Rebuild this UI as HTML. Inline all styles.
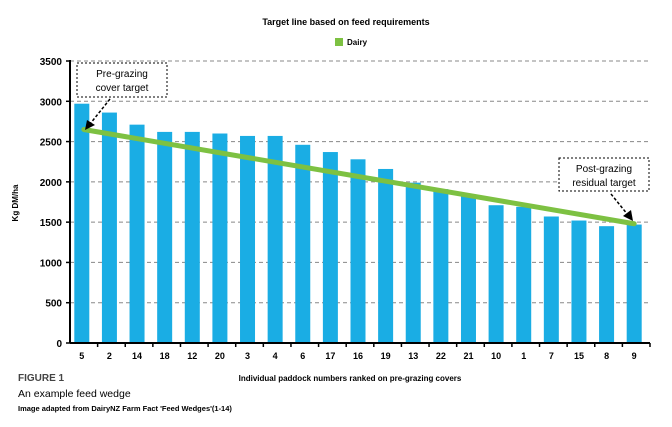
<!DOCTYPE html>
<html><head><meta charset="utf-8"><style>
body{margin:0;background:#fff;font-family:"Liberation Sans",sans-serif}
svg text{font-family:"Liberation Sans",sans-serif}
</style></head><body>
<svg id="c" width="672" height="422" xmlns="http://www.w3.org/2000/svg">
<text x="346" y="25" text-anchor="middle" font-size="9" font-weight="bold">Target line based on feed requirements</text>
<rect x="335" y="38" width="8" height="8" fill="#7dc142"/>
<text x="347" y="45" font-size="8" font-weight="bold">Dairy</text>
<g id="grid"></g><g id="bars"></g><g id="axes"></g>
<text x="18" y="203" font-size="8" font-weight="bold" transform="rotate(-90 18 203)" text-anchor="middle">Kg DM/ha</text>
<text x="350" y="381" text-anchor="middle" font-size="8" font-weight="bold">Individual paddock numbers ranked on pre-grazing covers</text>
<text x="18" y="381" font-size="10" font-weight="bold" fill="#444">FIGURE 1</text>
<text x="18" y="397" font-size="10.5">An example feed wedge</text>
<text x="18" y="411" font-size="7.5" font-weight="bold">Image adapted from DairyNZ Farm Fact 'Feed Wedges'(1-14)</text>
<g>
<rect x="77" y="63" width="90" height="34" fill="#fff" stroke="#000" stroke-dasharray="2,2"/>
<text x="122" y="77" text-anchor="middle" font-size="10">Pre-grazing</text>
<text x="122" y="91" text-anchor="middle" font-size="10">cover target</text>
<line x1="110" y1="99" x2="90" y2="124" stroke="#000" stroke-width="1.5" stroke-dasharray="3,2"/>
<polygon points="85,130 87,120 95,125" fill="#000"/>
</g>
<g>
<rect x="559" y="158" width="90" height="33" fill="#fff" stroke="#000" stroke-dasharray="2,2"/>
<text x="604" y="172" text-anchor="middle" font-size="10">Post-grazing</text>
<text x="604" y="186" text-anchor="middle" font-size="10">residual target</text>
<line x1="611" y1="194" x2="628" y2="215" stroke="#000" stroke-width="1.5" stroke-dasharray="3,2"/>
<polygon points="633,221 623,216 631,210" fill="#000"/>
</g>
</svg>
<script>
const paddocks=["5","2","14","18","12","20","3","4","6","17","16","19","13","22","21","10","1","7","15","8","9"];
const covers=[2970,2860,2710,2620,2620,2600,2570,2570,2460,2370,2280,2160,1990,1910,1820,1710,1690,1570,1520,1450,1470];
const yTicks=[0,500,1000,1500,2000,2500,3000,3500];
const targetStart=2650, targetEnd=1480;
const NS="http://www.w3.org/2000/svg";
const x0=70,x1=650,yb=343,yt=61;
const step=(x1-x0)/paddocks.length;
const xc=i=>x0+step*(i+0.5)-2;
const y=v=>yb-(v/3500)*(yb-yt);
function mk(t,a,p){const e=document.createElementNS(NS,t);for(const k in a)e.setAttribute(k,a[k]);p.appendChild(e);return e;}
const G=document.getElementById('grid'),B=document.getElementById('bars'),A=document.getElementById('axes');
yTicks.forEach(v=>{
 if(v>0){const l=mk('line',{x1:x0,x2:x1,y1:y(v),y2:y(v),stroke:'#888','stroke-dasharray':'4,3'},G);
 
 }
 const t=mk('text',{x:x0-8,y:y(v)+4,'text-anchor':'end','font-size':10,'font-weight':'bold'},A);t.textContent=v;
 
 
 mk('line',{x1:x0-4,x2:x0,y1:y(v),y2:y(v),stroke:'#000','stroke-width':1.5},A);
});
covers.forEach((v,i)=>{
 const r=mk('rect',{x:xc(i)-7.5,y:y(v),width:15,height:yb-y(v),fill:'#1aade4'},B);
 
 
 const t=mk('text',{x:xc(i),y:359,'text-anchor':'middle','font-size':9,'font-weight':'bold'},A);t.textContent=paddocks[i];
 
 
 mk('line',{x1:x0+step*(i+1),x2:x0+step*(i+1),y1:yb,y2:yb+4,stroke:'#000','stroke-width':1.5},A);
});
mk('line',{x1:x0,x2:x0,y1:yt-1,y2:yb,stroke:'#000','stroke-width':2},A);
mk('line',{x1:x0,x2:x1,y1:yb,y2:yb,stroke:'#000','stroke-width':2},A);
const tl=mk('line',{x1:xc(0)+2,y1:y(targetStart),x2:xc(covers.length-1),y2:y(targetEnd),stroke:'#7dc142','stroke-width':5,'stroke-linecap':'round'},A);


</script>
</body></html>
